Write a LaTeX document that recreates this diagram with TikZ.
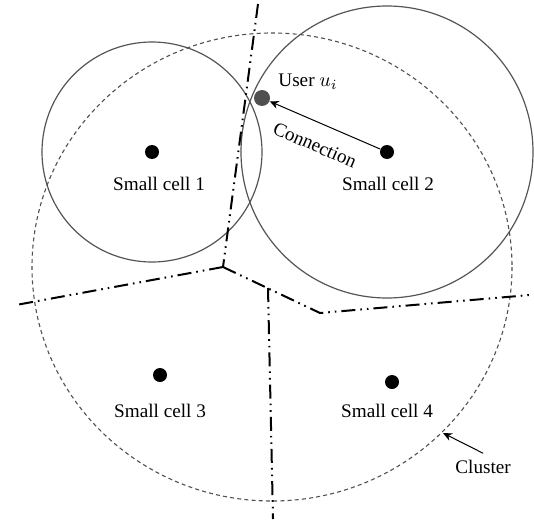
\documentclass[tikz,border=0pt]{standalone}
\usepackage{fontspec}
\setmainfont{Liberation Serif}
\usetikzlibrary{arrows.meta, positioning}
\definecolor{cellGray}{HTML}{555555}
\definecolor{clusterGray}{HTML}{505050}
\definecolor{userGray}{HTML}{505050}
\tikzset{
  bsdot/.style={circle, fill=black, inner sep=0pt, minimum size=7pt},
  userdot/.style={circle, fill=userGray, inner sep=0pt, minimum size=8pt},
  lbl/.style={font=\rmfamily\fontsize{9.6}{11}\selectfont, inner sep=0pt},
  coverage/.style={draw=cellGray, line width=0.6pt},
  clusterline/.style={draw=clusterGray, line width=0.55pt, dash pattern=on 2pt off 1.6pt},
  voronoi/.style={draw=black, line width=1pt,
    dash pattern=on 7pt off 2.5pt on 0.8pt off 2.5pt on 0.8pt off 2.5pt},
  arrowK/.style={-{Stealth[length=4.5pt, width=4pt]}, black, line width=0.5pt},
}
\begin{document}
\begin{tikzpicture}[x=0.5pt, y=-0.5pt]
  \useasboundingbox (0,0) rectangle (534,519);
  % base stations and user
  \node[bsdot] (sc1) at (152,152) {};
  \node[bsdot] (sc2) at (387,152) {};
  \node[bsdot] (sc3) at (160,375) {};
  \node[bsdot] (sc4) at (392,382) {};
  \node[userdot] (user) at (262,98) {};
  % coverage circles and cluster
  \draw[coverage] (sc1) circle[radius=110];
  \draw[coverage] (sc2) circle[radius=146];
  \draw[clusterline] (272,267) ellipse[x radius=240, y radius=234];
  % cell borders
  \coordinate (vtop) at (258,4);
  \coordinate (vjoin) at (223,267);
  \coordinate (vleft) at (16,305);
  \coordinate (vmid) at (268,288);
  \coordinate (vbend) at (320,313);
  \coordinate (vright) at (530,295);
  \coordinate (vbot) at (273,519);
  \draw[voronoi] (vtop) -- (vjoin);
  \draw[voronoi] (vjoin) -- (vleft);
  \draw[voronoi] (vjoin) -- (vbend) -- (vright);
  \draw[voronoi] (vmid) -- (vbot);
  % labels
  \node[lbl, anchor=base] (l1) at (159,190) {Small cell 1};
  \node[lbl, anchor=base] (l2) at (388,190) {Small cell 2};
  \node[lbl, anchor=base] (l3) at (160,417) {Small cell 3};
  \node[lbl, anchor=base] (l4) at (387,417) {Small cell 4};
  \node[lbl, anchor=base west] (ul) at (278,87) {User $u_i$};
  \node[lbl, rotate=-23.4] (cn) at (315,145) {Connection};
  \node[lbl, anchor=base west, inner sep=3pt] (clu) at (449,473) {Cluster};
  \coordinate (cltip) at (443,433);
  \draw[arrowK] (sc2) -- (user);
  \draw[arrowK] (clu.north) -- (cltip);
\end{tikzpicture}
\end{document}
